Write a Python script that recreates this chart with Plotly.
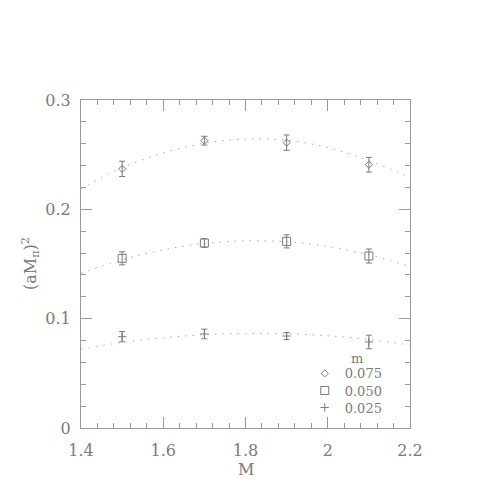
import plotly.graph_objects as go

# measured points (M = heavy mass), three light quark masses m
M = [1.5, 1.7, 1.9, 2.1]
masses = ["0.075", "0.050", "0.025"]

y_075 = [0.237, 0.2628, 0.261, 0.2408]
e_075 = [0.007, 0.004, 0.007, 0.0067]
y_050 = [0.1552, 0.1692, 0.1707, 0.1573]
e_050 = [0.006, 0.004, 0.006, 0.0064]
y_025 = [0.0835, 0.086, 0.0841, 0.0787]
e_025 = [0.0047, 0.0044, 0.0032, 0.0062]

# dotted fit curves
M_fit = [1.4, 1.5, 1.6, 1.7, 1.8, 1.9, 2.0, 2.1, 2.2]
fit_075 = [0.219, 0.238, 0.2515, 0.2605, 0.2643, 0.2632, 0.2565, 0.2445, 0.229]
fit_050 = [0.1415, 0.1539, 0.163, 0.1688, 0.1712, 0.1703, 0.1661, 0.1585, 0.1476]
fit_025 = [0.0723, 0.0782, 0.0825, 0.0853, 0.0865, 0.0862, 0.0843, 0.0809, 0.0759]

txt = "#7a7a7a"
ln = "#9a9a9a"
font = "DejaVu Serif"

fig = go.Figure()

for fx, fy in [(M_fit, fit_075), (M_fit, fit_050), (M_fit, fit_025)]:
    fig.add_trace(go.Scatter(x=fx, y=fy, mode="lines", line_shape="spline",
                             line=dict(color="#a8a8a8", width=1, dash="1.5px,6px"),
                             showlegend=False, hoverinfo="skip"))

series = [
    (y_075, e_075, "diamond-open", 5.5, "legend"),
    (y_050, e_050, "square-open", 8, "legend2"),
    (y_025, e_025, "cross-thin-open", 6, "legend3"),
]
for name, (ys, es, sym, sz, lg) in zip(masses, series):
    fig.add_trace(go.Scatter(
        x=M, y=ys, mode="markers", name=name, legend=lg,
        marker=dict(symbol=sym, size=sz, color=txt, line=dict(color=txt, width=1)),
        error_y=dict(type="data", array=es, visible=True, color=txt, thickness=1, width=3),
    ))

axis_common = dict(
    showline=True, linecolor=ln, linewidth=1, mirror="ticks",
    ticks="inside", ticklen=11, tickcolor=ln, tickwidth=1,
    showgrid=False, zeroline=False,
    tickfont=dict(family=font, size=16, color=txt),
)

fig.update_xaxes(range=[1.4, 2.2], dtick=0.2, tick0=1.4,
                 minor=dict(dtick=0.04, ticklen=5, ticks="inside", tickcolor=ln),
                 ticklabelstandoff=8, **axis_common)
fig.update_yaxes(range=[0, 0.3], dtick=0.1, tick0=0,
                 minor=dict(dtick=0.02, ticklen=5, ticks="inside", tickcolor=ln),
                 ticklabelstandoff=6, **axis_common)

fig.add_annotation(text="M", xref="paper", yref="paper", x=0.5, y=-0.128,
                   showarrow=False, yanchor="middle",
                   font=dict(family=font, size=16, color=txt))
fig.add_annotation(text="(aM<sub>π</sub>)<sup>2</sup>", xref="paper", yref="paper",
                   x=-0.155, y=0.5, textangle=-90, showarrow=False,
                   xanchor="center", yanchor="middle",
                   font=dict(family=font, size=16, color=txt))
fig.add_annotation(text="m", xref="paper", yref="paper", x=0.816, y=0.213,
                   showarrow=False, xanchor="left", yanchor="middle",
                   font=dict(family=font, size=13, color=txt))

leg = dict(x=0.68, xanchor="left", yanchor="top",
           font=dict(family=font, size=13, color=txt),
           bgcolor="rgba(0,0,0,0)", itemwidth=30)

# page body keeps an 8px margin, so the figure is 472 and shifted up-left
fig.update_layout(
    width=472, height=472,
    margin=dict(l=73, r=70, t=92, b=52),
    plot_bgcolor="white", paper_bgcolor="white",
    legend=dict(leg, y=0.212),
    legend2=dict(leg, y=0.160),
    legend3=dict(leg, y=0.108),
    showlegend=True,
)

fig.write_html("out.html")
